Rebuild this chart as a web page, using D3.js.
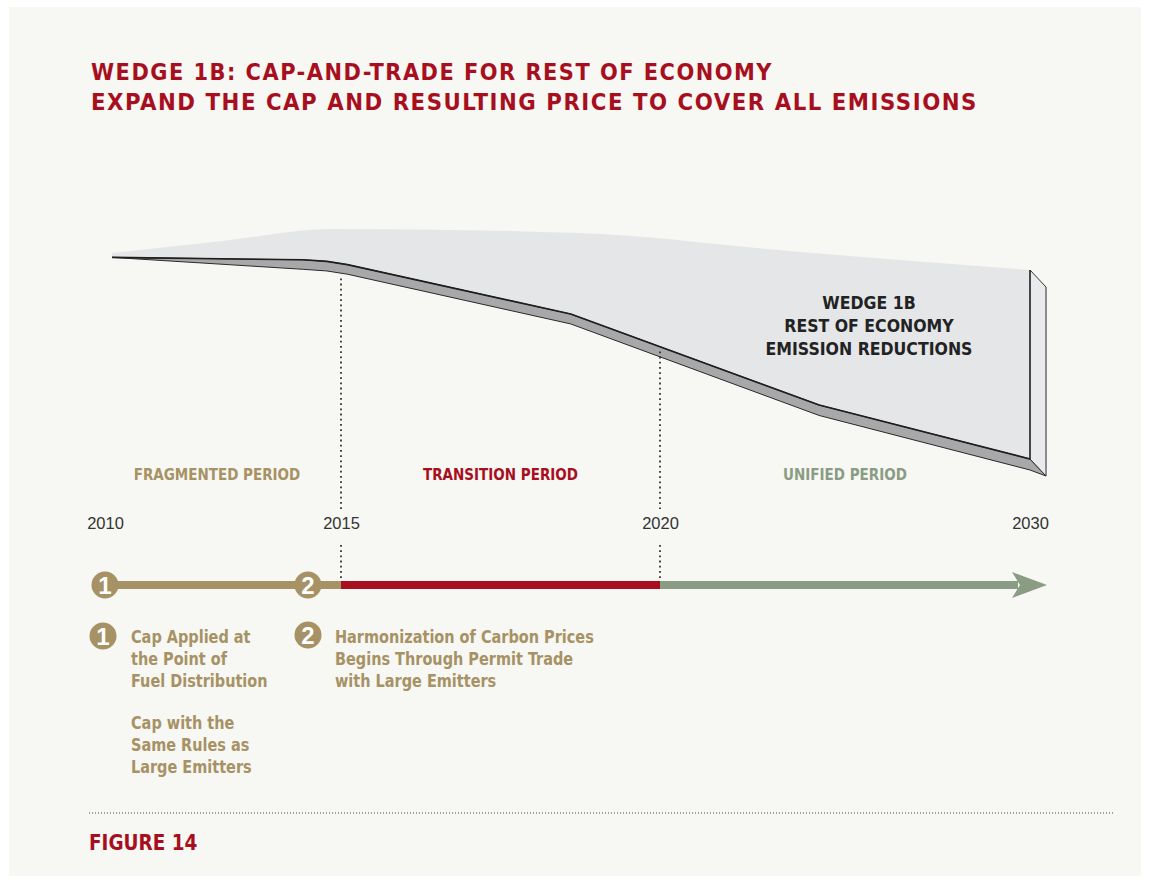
<!DOCTYPE html>
<html>
<head>
<meta charset="utf-8">
<script src="https://cdn.jsdelivr.net/npm/d3@7"></script>
<style>
  body { margin: 0; background: #ffffff; }
  svg { display: block; }
</style>
</head>
<body>
<script>
// ---- data ----
var tickYears = [2010, 2015, 2020, 2030];
var tickLabels = ["2010", "2015", "2020", "2030"];

// top of the wedge (emissions without the cap), index units
var bauYears = [2010.15, 2012.5, 2014.8, 2018.7, 2023.8, 2030];
var bauValues = [101, 104, 107, 106, 101.25, 96.75];

// the cap path
var capYears = [2010.15, 2014.2, 2014.7, 2015.1, 2018.6, 2024.3, 2030];
var capValues = [99.9, 99.3, 98.9, 98.1, 85.75, 63, 49.5];

var periodNames = ["FRAGMENTED PERIOD", "TRANSITION PERIOD", "UNIFIED PERIOD"];
var periodStart = [2010, 2015, 2020];
var periodEnd = [2015, 2020, 2030];

var milestoneYears = [2010, 2014.3];
var milestoneLabels = ["1", "2"];

var titleLines = [
  "WEDGE 1B: CAP-AND-TRADE FOR REST OF ECONOMY",
  "EXPAND THE CAP AND RESULTING PRICE TO COVER ALL EMISSIONS"
];
var wedgeLabel = ["WEDGE 1B", "REST OF ECONOMY", "EMISSION REDUCTIONS"];
var note1Lines = ["Cap Applied at", "the Point of", "Fuel Distribution"];
var note1bLines = ["Cap with the", "Same Rules as", "Large Emitters"];
var note2Lines = ["Harmonization of Carbon Prices", "Begins Through Permit Trade", "with Large Emitters"];
var figureLabel = "FIGURE 14";

// ---- style ----
var RED = "#a70f1e";
var TAN = "#a69264";
var GREEN = "#8a9c84";
var COND = "'Liberation Sans Narrow','DejaVu Sans Condensed','Arial Narrow',sans-serif";
var REG = "'Liberation Sans',Arial,sans-serif";

var svgWidth = 1149;
var svgHeight = 883;

var svg = d3.select("body")
  .append("svg")
  .attr("width", svgWidth)
  .attr("height", svgHeight);

// panel
svg.append("rect")
  .attr("x", 9).attr("y", 7)
  .attr("width", 1132).attr("height", 869)
  .attr("fill", "#f7f7f3");

// title
svg.selectAll(".title")
  .data(titleLines)
  .enter()
  .append("text")
  .attr("class", "title")
  .attr("x", 91)
  .attr("y", (d, i) => 80 + i * 30)
  .attr("textLength", (d, i) => i === 0 ? 682 : 887)
  .attr("lengthAdjust", "spacingAndGlyphs")
  .attr("font-family", COND)
  .attr("font-weight", "bold")
  .attr("font-size", 23.5)
  .attr("letter-spacing", 1.5)
  .attr("fill", RED)
  .text(d => d);

// scales: the year axis is not evenly spaced in the figure
var x = d3.scaleLinear()
  .domain([2010, 2015, 2020, 2030])
  .range([105, 341, 660, 1030]);

var y = d3.scaleLinear()
  .domain([100, 50])
  .range([257, 457]);

var bandDepth = d3.scaleLinear()
  .domain([2010.15, 2014, 2030])
  .range([0, 9.5, 11])
  .clamp(true);

var bau = bauYears.map((yr, i) => ({ year: yr, v: bauValues[i] }));
var cap = capYears.map((yr, i) => ({ year: yr, v: capValues[i] }));
var capAt = d3.scaleLinear().domain(capYears).range(capValues);

var topLine = d3.line()
  .x(d => x(d.year))
  .y(d => y(d.v))
  .curve(d3.curveMonotoneX);

var capLine = d3.line()
  .x(d => x(d.year))
  .y(d => y(d.v))
  .curve(d3.curveLinear);

var capBottom = d3.line()
  .x(d => x(d.year))
  .y(d => y(d.v) + bandDepth(d.year))
  .curve(d3.curveLinear);

var chartGroup = svg.append("g");

var xe = x(2030);
var dx = 16, dy = 17;

// light wedge: bau forward, cap back
var wedgePath = topLine(bau) + "L" + capLine(cap.slice().reverse()).slice(1) + "Z";
chartGroup.append("path")
  .attr("d", wedgePath)
  .attr("fill", "#e5e6e8");

// bottom band (depth of the cap)
var bandTop = capLine(cap);
var bandBot = capBottom(cap.slice().reverse());
var capEnd = cap[cap.length - 1];
chartGroup.append("path")
  .attr("d", bandTop + "L" + (xe + dx) + "," + (y(capEnd.v) + dy) + "L" + bandBot.slice(1) + "Z")
  .attr("fill", "#a8a8ab")
  .attr("stroke", "#2a2a2a")
  .attr("stroke-width", 1)
  .attr("stroke-linejoin", "round");

// cap line on top of band
chartGroup.append("path")
  .attr("d", bandTop)
  .attr("fill", "none")
  .attr("stroke", "#1e1e1e")
  .attr("stroke-width", 1.6)
  .attr("stroke-linejoin", "round");

// right end face
var bauEnd = bau[bau.length - 1];
chartGroup.append("path")
  .attr("d", "M" + xe + "," + y(bauEnd.v) +
    "L" + (xe + dx) + "," + (y(bauEnd.v) + dy) +
    "L" + (xe + dx) + "," + (y(capEnd.v) + dy) +
    "L" + xe + "," + y(capEnd.v) + "Z")
  .attr("fill", "#e9eaec")
  .attr("stroke", "none");
chartGroup.append("line")
  .attr("x1", xe + dx).attr("x2", xe + dx)
  .attr("y1", y(bauEnd.v) + dy).attr("y2", y(capEnd.v) + dy)
  .attr("stroke", "#8c8c8f").attr("stroke-width", 2);
chartGroup.append("path")
  .attr("d", "M" + xe + "," + y(bauEnd.v) + "L" + (xe + dx) + "," + (y(bauEnd.v) + dy))
  .attr("stroke", "#333").attr("stroke-width", 1).attr("fill", "none");
chartGroup.append("line")
  .attr("x1", xe).attr("x2", xe)
  .attr("y1", y(bauEnd.v)).attr("y2", y(capEnd.v))
  .attr("stroke", "#1e1e1e").attr("stroke-width", 1.6);
chartGroup.append("line")
  .attr("x1", xe).attr("x2", xe + dx)
  .attr("y1", y(capEnd.v)).attr("y2", y(capEnd.v) + dy)
  .attr("stroke", "#2a2a2a").attr("stroke-width", 1);

// wedge label
chartGroup.selectAll(".wedge-label")
  .data(wedgeLabel)
  .enter()
  .append("text")
  .attr("class", "wedge-label")
  .attr("x", 869)
  .attr("y", (d, i) => 309 + i * 23)
  .attr("text-anchor", "middle")
  .attr("font-family", COND)
  .attr("font-weight", "bold")
  .attr("font-size", 17.5)
  .attr("fill", "#222")
  .text(d => d);

// dotted period dividers
var timelineY = 585;
[2015, 2020].forEach(function (yr) {
  var top = y(capAt(yr)) + bandDepth(yr) + 5;
  chartGroup.append("line")
    .attr("x1", x(yr)).attr("x2", x(yr))
    .attr("y1", top).attr("y2", 509)
    .attr("stroke", "#333").attr("stroke-width", 1.8)
    .attr("stroke-dasharray", "1.8,3.4");
  chartGroup.append("line")
    .attr("x1", x(yr)).attr("x2", x(yr))
    .attr("y1", 545).attr("y2", timelineY - 3)
    .attr("stroke", "#333").attr("stroke-width", 1.8)
    .attr("stroke-dasharray", "1.8,3.4");
});

// period labels
var periodColors = [TAN, RED, GREEN];
chartGroup.selectAll(".period")
  .data(periodNames)
  .enter()
  .append("text")
  .attr("class", "period")
  .attr("x", (d, i) => (x(periodStart[i]) + x(periodEnd[i])) / 2 - (i === 0 ? 6 : 0))
  .attr("y", 480)
  .attr("text-anchor", "middle")
  .attr("font-family", COND)
  .attr("font-weight", "bold")
  .attr("font-size", 15)
  .attr("fill", (d, i) => periodColors[i])
  .text(d => d);

// year axis
var bottomAxis = d3.axisBottom(x)
  .tickValues(tickYears)
  .tickFormat((d, i) => tickLabels[i])
  .tickSize(0);

var axisG = chartGroup.append("g")
  .attr("transform", "translate(0, 510)")
  .call(bottomAxis);
axisG.select(".domain").remove();
axisG.selectAll("text")
  .attr("dy", 0)
  .attr("y", 19)
  .attr("font-family", REG)
  .attr("font-size", 16.5)
  .attr("fill", "#333");

// timeline
var segColors = [TAN, RED, GREEN];
chartGroup.selectAll(".seg")
  .data(periodStart)
  .enter()
  .append("line")
  .attr("class", "seg")
  .attr("x1", (d, i) => x(d))
  .attr("x2", (d, i) => i === 2 ? x(periodEnd[i]) - 12 : x(periodEnd[i]))
  .attr("y1", timelineY).attr("y2", timelineY)
  .attr("stroke", (d, i) => segColors[i])
  .attr("stroke-width", 8);

// arrow head
var tipX = x(2030) + 17;
chartGroup.append("path")
  .attr("d", "M" + tipX + "," + timelineY +
    "L" + (tipX - 35) + "," + (timelineY - 13) +
    "L" + (tipX - 27) + "," + timelineY +
    "L" + (tipX - 35) + "," + (timelineY + 13) + "Z")
  .attr("fill", GREEN);

// numbered markers
function marker(g, cx, cy, label) {
  g.append("circle")
    .attr("cx", cx).attr("cy", cy).attr("r", 13.5)
    .attr("fill", TAN);
  g.append("text")
    .attr("x", cx).attr("y", cy + 8.5)
    .attr("text-anchor", "middle")
    .attr("font-family", REG)
    .attr("font-weight", "bold")
    .attr("font-size", 24)
    .attr("fill", "#ffffff")
    .text(label);
}
milestoneYears.forEach(function (yr, i) {
  marker(chartGroup, x(yr), timelineY, milestoneLabels[i]);
});

// notes
marker(chartGroup, 103, 636, milestoneLabels[0]);
marker(chartGroup, 308, 635, milestoneLabels[1]);

function noteBlock(lines, x0, y0) {
  chartGroup.append("g").selectAll("text")
    .data(lines)
    .enter()
    .append("text")
    .attr("transform", (d, i) => `translate(${x0}, ${y0 + i * 22}) scale(0.92, 1)`)
    .attr("font-family", COND)
    .attr("font-weight", "bold")
    .attr("font-size", 17.5)
    .attr("fill", TAN)
    .text(d => d);
}
noteBlock(note1Lines, 131, 643);
noteBlock(note1bLines, 131, 729);
noteBlock(note2Lines, 335, 643);

// separator and figure label
svg.append("line")
  .attr("x1", 89).attr("x2", 1113)
  .attr("y1", 813).attr("y2", 813)
  .attr("stroke", "#444").attr("stroke-width", 1.2)
  .attr("stroke-dasharray", "1,2");

svg.append("text")
  .attr("x", 89)
  .attr("y", 850)
  .attr("font-family", COND)
  .attr("font-weight", "bold")
  .attr("font-size", 20.5)
  .attr("fill", RED)
  .text(figureLabel);
</script>
</body>
</html>
